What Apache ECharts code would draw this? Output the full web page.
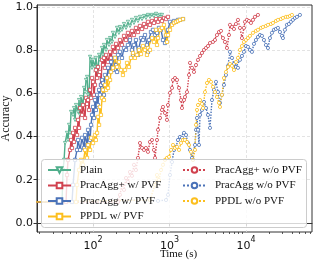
<!DOCTYPE html>
<html><head><meta charset="utf-8">
<script src="https://cdn.jsdelivr.net/npm/echarts@6/dist/echarts.min.js"></script>
<style>html,body{margin:0;padding:0;background:#fff}#c{width:314px;height:262px}</style>
</head><body><div id="c"></div>
<script>
// [time (s), accuracy]
const plainWithPVF = [[15,0.097],[31.9,0.097],[39.3,0.097],[40.5,0.245],[41.8,0.292],[43.1,0.370],[45.7,0.417],[47.1,0.384],[48.6,0.454],[50.0,0.417],[51.6,0.514],[54.8,0.500],[56.4,0.532],[58.2,0.477],[59.9,0.546],[63.7,0.514],[65.6,0.569],[67.6,0.500],[69.7,0.583],[74.0,0.546],[76.3,0.625],[78.6,0.606],[81.0,0.662],[83.5,0.676],[86.0,0.593],[88.7,0.583],[91.4,0.769],[94.2,0.755],[97.0,0.718],[100,0.755],[106,0.722],[109,0.764],[116,0.699],[120,0.778],[123,0.755],[131,0.810],[135,0.778],[139,0.824],[148,0.801],[152,0.847],[162,0.824],[167,0.856],[177,0.838],[182,0.880],[194,0.861],[206,0.903],[218,0.880],[225,0.907],[239,0.894],[254,0.921],[270,0.903],[286,0.931],[304,0.912],[323,0.940],[343,0.926],[364,0.949],[387,0.935],[411,0.954],[437,0.944],[464,0.958],[492,0.949],[523,0.963],[555,0.954],[590,0.963],[626,0.958],[666,0.968],[707,0.958],[751,0.963],[797,0.963]];
const pracAggPlusWith = [[15,0.097],[44.4,0.097],[45.7,0.222],[47.1,0.292],[50.0,0.338],[51.6,0.384],[53.1,0.347],[54.8,0.417],[56.4,0.375],[58.2,0.440],[61.8,0.407],[63.7,0.477],[65.6,0.440],[67.6,0.532],[71.8,0.500],[74.0,0.546],[78.6,0.486],[81.0,0.579],[83.5,0.551],[86.0,0.569],[88.7,0.523],[91.4,0.616],[94.2,0.579],[97.0,0.671],[100,0.653],[103,0.593],[106,0.639],[109,0.708],[113,0.671],[116,0.722],[120,0.685],[123,0.699],[127,0.639],[131,0.755],[135,0.731],[139,0.764],[143,0.718],[148,0.778],[157,0.745],[167,0.792],[172,0.764],[182,0.815],[194,0.792],[200,0.829],[212,0.810],[225,0.847],[239,0.824],[254,0.866],[270,0.847],[286,0.880],[304,0.856],[323,0.889],[343,0.870],[364,0.903],[387,0.884],[411,0.912],[437,0.898],[464,0.921],[492,0.907],[523,0.931],[555,0.917],[590,0.935],[626,0.926],[666,0.944],[707,0.931],[751,0.944],[797,0.935],[847,0.949],[900,0.944],[955,0.954]];
const pracAggWith = [[15,0.097],[53.1,0.097],[54.8,0.176],[58.2,0.292],[61.8,0.338],[63.7,0.384],[67.6,0.338],[71.8,0.394],[76.3,0.347],[78.6,0.407],[83.5,0.361],[86.0,0.431],[91.4,0.384],[94.2,0.454],[97.0,0.500],[100,0.537],[103,0.486],[106,0.569],[109,0.523],[113,0.593],[116,0.546],[120,0.616],[123,0.593],[127,0.639],[131,0.662],[135,0.648],[139,0.593],[143,0.685],[152,0.671],[157,0.718],[167,0.699],[172,0.745],[182,0.708],[188,0.764],[200,0.731],[206,0.699],[212,0.778],[225,0.792],[239,0.764],[254,0.810],[270,0.801],[286,0.824],[304,0.847],[323,0.801],[333,0.778],[343,0.824],[364,0.847],[387,0.778],[399,0.810],[424,0.856],[450,0.847],[478,0.870],[507,0.824],[523,0.792],[539,0.847],[572,0.884],[608,0.894],[646,0.870],[686,0.880],[728,0.903],[774,0.894],[822,0.847],[873,0.833],[900,0.866],[955,0.894],[1015,0.931],[1078,0.921],[1145,0.935],[1216,0.931],[1291,0.940],[1371,0.940],[1501,0.944]];
const ppdlWith = [[15,0.097],[59.9,0.097],[61.8,0.176],[65.6,0.245],[69.7,0.292],[74.0,0.269],[78.6,0.338],[83.5,0.301],[86.0,0.361],[91.4,0.338],[94.2,0.394],[100,0.370],[106,0.407],[109,0.384],[113,0.417],[116,0.491],[120,0.454],[123,0.537],[127,0.500],[131,0.579],[135,0.616],[139,0.569],[143,0.639],[148,0.616],[152,0.671],[157,0.625],[167,0.662],[172,0.699],[182,0.718],[194,0.764],[206,0.722],[218,0.745],[232,0.708],[246,0.685],[262,0.708],[278,0.741],[295,0.722],[313,0.764],[333,0.787],[353,0.764],[375,0.778],[399,0.801],[424,0.782],[450,0.819],[478,0.801],[507,0.778],[523,0.810],[555,0.801],[590,0.856],[626,0.838],[666,0.894],[686,0.824],[707,0.856],[751,0.894],[797,0.903],[847,0.917],[900,0.870],[927,0.838],[955,0.870],[1015,0.894],[1078,0.917],[1145,0.926],[1216,0.931],[1291,0.935],[1371,0.940],[1501,0.944]];
const pracAggPlusWithout = [[15,0.097],[212,0.097],[225,0.130],[239,0.176],[254,0.153],[270,0.208],[286,0.190],[304,0.236],[323,0.218],[343,0.269],[364,0.245],[387,0.301],[411,0.370],[437,0.347],[464,0.338],[492,0.347],[523,0.329],[555,0.375],[590,0.384],[626,0.338],[646,0.301],[686,0.384],[707,0.431],[751,0.486],[797,0.523],[822,0.537],[873,0.509],[927,0.477],[955,0.546],[1015,0.602],[1078,0.625],[1111,0.662],[1180,0.671],[1253,0.662],[1331,0.625],[1413,0.569],[1456,0.532],[1547,0.569],[1594,0.583],[1693,0.606],[1798,0.685],[1853,0.741],[1968,0.718],[2090,0.699],[2220,0.731],[2358,0.755],[2504,0.773],[2659,0.787],[2824,0.801],[3000,0.810],[3186,0.819],[3383,0.833],[3703,0.838],[3932,0.847],[4176,0.870],[4435,0.884],[4710,0.889],[5002,0.856],[5313,0.838],[5642,0.810],[5992,0.870],[6175,0.917],[6558,0.907],[6965,0.898],[7397,0.921],[7856,0.940],[8343,0.903],[8861,0.856],[9410,0.903],[9698,0.931],[10300,0.940],[10940,0.935],[11620,0.926],[12340,0.940],[13100,0.954],[14340,0.963]];
const pracAggWithout = [[15,0.097],[555,0.106],[707,0.102],[900,0.106],[955,0.130],[1015,0.222],[1078,0.282],[1145,0.338],[1216,0.352],[1291,0.384],[1371,0.398],[1456,0.394],[1547,0.417],[1643,0.407],[1745,0.370],[1853,0.338],[1968,0.301],[2028,0.292],[2154,0.361],[2220,0.431],[2288,0.486],[2358,0.431],[2430,0.361],[2504,0.500],[2659,0.523],[2824,0.560],[3000,0.532],[3186,0.500],[3383,0.440],[3593,0.569],[3816,0.616],[4052,0.653],[4304,0.606],[4571,0.556],[4854,0.593],[5155,0.639],[5475,0.685],[5815,0.727],[6175,0.792],[6558,0.764],[6965,0.736],[7397,0.722],[7856,0.718],[8343,0.755],[8861,0.773],[9410,0.792],[9994,0.819],[10610,0.815],[11270,0.801],[11970,0.792],[12720,0.829],[13500,0.847],[14340,0.861],[15230,0.870],[16180,0.866],[17180,0.847],[18240,0.824],[19380,0.810],[20580,0.856],[21850,0.880],[23210,0.894],[24650,0.898],[26180,0.903],[27800,0.884],[29530,0.866],[30430,0.856],[32320,0.894],[34320,0.917],[36450,0.921],[38710,0.931],[41110,0.940],[43670,0.949],[46380,0.954],[50760,0.963]];
const ppdlWithout = [[15,0.097],[555,0.106],[646,0.176],[686,0.222],[728,0.199],[774,0.245],[822,0.269],[873,0.292],[927,0.301],[985,0.306],[1046,0.338],[1111,0.361],[1180,0.347],[1253,0.352],[1331,0.338],[1413,0.370],[1501,0.384],[1594,0.384],[1693,0.375],[1798,0.361],[1910,0.329],[2028,0.292],[2154,0.338],[2220,0.454],[2288,0.523],[2358,0.546],[2504,0.569],[2659,0.551],[2741,0.532],[2911,0.606],[3091,0.648],[3283,0.662],[3487,0.653],[3703,0.630],[3932,0.606],[4176,0.583],[4435,0.556],[4571,0.537],[4854,0.593],[5155,0.671],[5475,0.699],[5815,0.722],[6175,0.736],[6558,0.727],[6965,0.708],[7397,0.745],[7856,0.764],[8343,0.801],[8861,0.819],[9410,0.838],[9994,0.847],[10610,0.856],[11270,0.866],[12340,0.880],[13500,0.889],[14340,0.894],[15700,0.903],[16670,0.907],[18240,0.912],[19380,0.917],[21210,0.921],[22520,0.926],[24650,0.935],[26180,0.940],[28650,0.944],[30430,0.949],[33300,0.954],[35370,0.954],[37570,0.958],[39900,0.963]];

const seriesNames = ['Plain','PracAgg+ w/ PVF','PracAgg w/ PVF','PPDL w/ PVF','PracAgg+ w/o PVF','PracAgg w/o PVF','PPDL w/o PVF'];
const xMajorTicks = [100, 1000, 10000];
const xMinorTicks = [20,30,40,50,60,70,80,90,200,300,400,500,600,700,800,900,2000,3000,4000,5000,6000,7000,8000,9000,20000,30000,40000,50000,60000,70000];
const yTicks = [0, 0.2, 0.4, 0.6, 0.8, 1.0];

const GREEN='#50ae8b', RED='#d1414e', BLUE='#4a72b8', YELLOW='#fcbf1e';
const serifFont = 'Liberation Serif';
const sansFont = 'DejaVu Sans';

function mk(name, data, color, symbol, dotted, rot) {
  return {
    name, type:'line', data, symbol, symbolRotate: rot||0, symbolSize: 3.2,
    showSymbol: true, clip: true, animation: false,
    itemStyle: {color:'#ffffff', borderColor: color, borderWidth: 0.8},
    lineStyle: {color, width: 1.4, type: dotted ? 'dotted' : 'solid'},
    emphasis: {disabled: true}
  };
}

const chart = echarts.init(document.getElementById('c'), null, {renderer:'canvas'});
chart.setOption({
  animation: false,
  backgroundColor: '#fff',
  grid: {left:37, right:2, top:5, bottom:30, show:true, borderColor:'#333', borderWidth:1, containLabel:false, outerBoundsMode:'none'},
  xAxis: [{
    type:'log', logBase:10, min:18.5, max:73000,
    name:'Time (s)', nameLocation:'middle', nameGap:17, nameMoveOverlap:false,
    nameTextStyle:{fontFamily:serifFont, fontSize:11, color:'#111', padding:[0,0,0,8], verticalAlign:'top'},
    axisLine:{show:true, lineStyle:{color:'#333', width:1}},
    axisTick:{show:true, customValues:xMajorTicks, length:3.5, inside:false, lineStyle:{color:'#333', width:1}},
    axisLabel:{customValues:xMajorTicks, margin:4, color:'#111',
      formatter: v => '{b|10}{e|' + Math.round(Math.log10(v)) + '}',
      rich:{b:{fontFamily:sansFont, fontSize:11, lineHeight:16, verticalAlign:'bottom', color:'#111'},
            e:{fontFamily:sansFont, fontSize:8, lineHeight:16, verticalAlign:'top', color:'#111'}}},
    splitLine:{show:true, lineStyle:{color:'#dcdcdc', width:0.8, type:[3,2]}},
    minorTick:{show:false}
  },{
    type:'log', logBase:10, min:18.5, max:73000, position:'bottom',
    axisLine:{show:false},
    axisTick:{show:true, customValues:xMinorTicks, length:2, lineStyle:{color:'#333', width:0.8}},
    axisLabel:{show:false},
    splitLine:{show:false}
  }],
  yAxis: {
    type:'value', min:-0.042, max:1.009,
    name:'Accuracy', nameLocation:'middle', nameGap:25, nameRotate:90, nameMoveOverlap:false,
    nameTextStyle:{fontFamily:serifFont, fontSize:12, color:'#111'},
    axisLine:{show:true, lineStyle:{color:'#333', width:1}},
    axisTick:{show:true, customValues:yTicks, length:3.5, lineStyle:{color:'#333', width:1}},
    axisLabel:{customValues:yTicks, margin:4, fontFamily:sansFont, fontSize:11, color:'#111', formatter: v => v.toFixed(1)},
    splitLine:{show:true, lineStyle:{color:'#dcdcdc', width:0.8, type:[3,2]}}
  },
  graphic: [{
    type:'rect', left:41, top:159, z:50, silent:true,
    shape:{width:265, height:68, r:3},
    style:{fill:'rgba(255,255,255,0.8)', stroke:'#cccccc', lineWidth:1}
  }],
  legend: [{
    data: seriesNames.slice(0,4), orient:'vertical', left:47, top:164, z:60, padding:0,
    itemWidth:23, itemHeight:7, itemGap:3.5,
    textStyle:{fontFamily:serifFont, fontSize:11, color:'#111', lineHeight:12, padding:[0,0,0,4]},
    selectedMode:false
  },{
    data: seriesNames.slice(4), orient:'vertical', left:182, top:164, z:60, padding:0,
    itemWidth:23, itemHeight:7, itemGap:3.5,
    textStyle:{fontFamily:serifFont, fontSize:11, color:'#111', lineHeight:12, padding:[0,0,0,4]},
    selectedMode:false
  }],
  series: [
    mk(seriesNames[0], plainWithPVF, GREEN, 'triangle', false, 180),
    mk(seriesNames[1], pracAggPlusWith, RED, 'rect', false),
    mk(seriesNames[2], pracAggWith, BLUE, 'rect', false),
    mk(seriesNames[3], ppdlWith, YELLOW, 'rect', false),
    mk(seriesNames[4], pracAggPlusWithout, RED, 'circle', true),
    mk(seriesNames[5], pracAggWithout, BLUE, 'circle', true),
    mk(seriesNames[6], ppdlWithout, YELLOW, 'circle', true)
  ]
});
</script></body></html>
